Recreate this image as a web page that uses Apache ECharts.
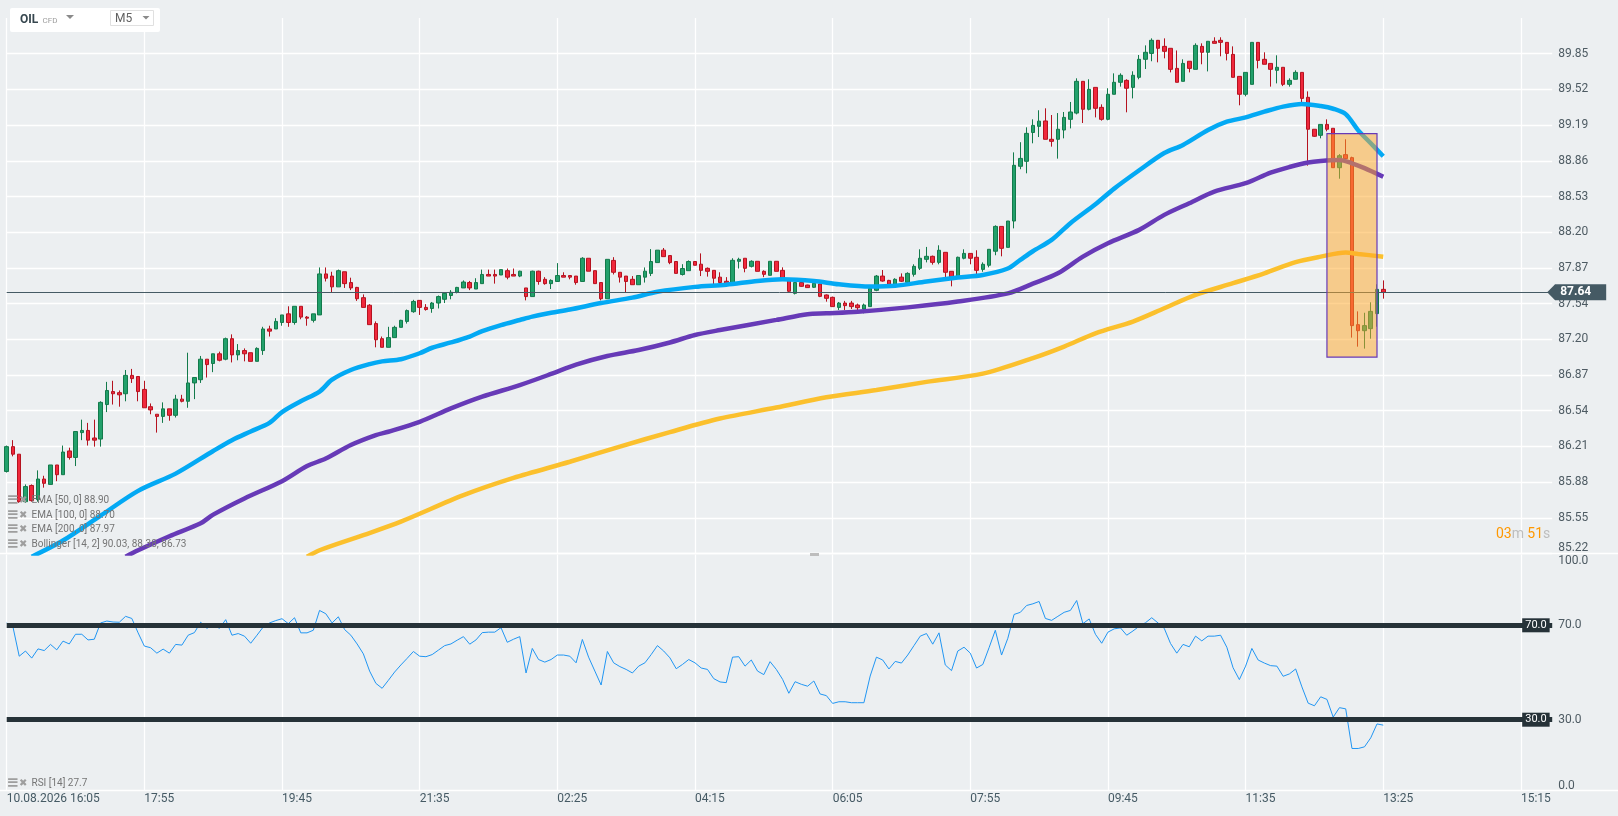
<!DOCTYPE html>
<html>
<head>
<meta charset="utf-8">
<script src="https://cdn.jsdelivr.net/npm/echarts@6/dist/echarts.min.js"></script>
<style>
html,body{margin:0;padding:0;background:#eceff1;}
#chart{width:1618px;height:816px;}
</style>
</head>
<body>
<div id="chart"></div>
<script>
// ---------- tick labels ----------
const xTickLabels = ['10.08.2026 16:05','17:55','19:45','21:35','02:25','04:15','06:05','07:55','09:45','11:35','13:25','15:15'];
const yTickLabels = ['85.22','85.55','85.88','86.21','86.54','86.87','87.20','87.54','87.87','88.20','88.53','88.86','89.19','89.52','89.85'];
const rsiTickValues = [0, 30, 70, 100];
const rsiTickTexts = ['0.0', '30.0', '70.0', '100.0'];
const rsiLevels = [70, 30];

// ---------- candles (M5) ----------
const opens = [85.98,86.21,86.14,85.70,85.85, 85.72,85.91,85.86,86.04,85.95, 86.17,86.11,86.34,86.36,86.29, 86.28,86.60,86.72,86.71,86.70,
 86.87,86.86,86.74,86.58,86.51, 86.49,86.56,86.50,86.65,86.63, 86.80,86.83,87.02,86.98,87.07, 87.02,87.21,87.06,87.10,87.08,
 87.00,87.10,87.30,87.30,87.36, 87.44,87.36,87.51,87.41,87.38, 87.43,87.81,87.79,87.69,87.83, 87.73,87.685,87.59,87.52,87.35,
 87.21,87.13,87.22,87.315,87.37, 87.46,87.565,87.50,87.49,87.54, 87.575,87.61,87.64,87.68,87.73, 87.67,87.72,87.805,87.805,87.80,
 87.84,87.805,87.79,87.68,87.60, 87.835,87.76,87.72,87.74,87.795, 87.795,87.79,87.74,87.955,87.84, 87.73,87.58,87.935,87.825,87.79,
 87.76,87.71,87.78,87.815,87.915, 88.03,87.98,87.925,87.805,87.84, 87.925,87.90,87.862,87.843,87.78, 87.742,87.707,87.927,87.955,87.88,
 87.927,87.834,87.797,87.927,87.843, 87.76,87.63,87.73,87.707,87.686, 87.717,87.615,87.593,87.50,87.54, 87.54,87.522,87.485,87.507,87.658,
 87.79,87.75,87.714,87.78,87.732, 87.806,87.862,87.945,87.973,87.917, 88.01,87.834,87.78,87.955,88.00, 87.964,87.852,87.89,88.02,88.25,
 88.056,88.30,88.807,88.853,89.12, 89.177,89.227,89.057,89.057,89.143, 89.242,89.30,89.594,89.335,89.538, 89.353,89.242,89.474,89.585,89.603,
 89.538,89.631,89.798,89.853,89.974, 89.918,89.90,89.714,89.594,89.78, 89.705,89.918,89.863,89.965,89.974, 89.955,89.844,89.64,89.474,89.566,
 89.955,89.798,89.76,89.696,89.724, 89.566,89.613,89.677,89.446,89.15, 89.094,89.195,89.159,88.794,88.915, 88.887,87.34,87.284,87.303,87.442,
 87.667];
const closes = [86.21,86.14,85.70,85.84,85.71, 85.91,85.87,86.04,85.95,86.16, 86.11,86.35,86.36,86.27,86.27, 86.62,86.73,86.70,86.69,86.87,
 86.84,86.72,86.57,86.55,86.49, 86.56,86.50,86.65,86.63,86.80, 86.85,87.02,86.97,87.07,87.01, 87.21,87.06,87.10,87.07,87.00,
 87.12,87.30,87.28,87.37,87.43, 87.36,87.51,87.41,87.40,87.44, 87.81,87.77,87.69,87.84,87.72, 87.68,87.58,87.50,87.34,87.20,
 87.13,87.22,87.315,87.38,87.47, 87.555,87.50,87.48,87.54,87.60, 87.63,87.64,87.685,87.735,87.68, 87.73,87.805,87.79,87.79,87.85,
 87.78,87.79,87.835,87.60,87.835, 87.74,87.72,87.75,87.795,87.78, 87.78,87.73,87.955,87.835,87.72, 87.58,87.945,87.825,87.78,87.74,
 87.71,87.795,87.835,87.925,88.03, 87.97,87.915,87.815,87.86,87.925, 87.89,87.843,87.834,87.77,87.73, 87.723,87.936,87.945,87.862,87.927,
 87.834,87.806,87.927,87.834,87.76, 87.649,87.73,87.695,87.683,87.723, 87.602,87.584,87.507,87.54,87.516, 87.507,87.497,87.522,87.676,87.79,
 87.744,87.714,87.76,87.742,87.815, 87.88,87.955,87.973,87.917,88.029, 87.825,87.78,87.964,88.00,87.955, 87.843,87.899,88.038,88.25,88.047,
 88.30,88.816,88.88,89.112,89.186, 89.225,89.057,89.038,89.15,89.26, 89.31,89.594,89.335,89.52,89.344, 89.242,89.474,89.585,89.65,89.53,
 89.65,89.798,89.863,89.974,89.90, 89.872,89.705,89.585,89.76,89.714, 89.927,89.863,89.965,89.946,89.955, 89.853,89.631,89.474,89.677,89.955,
 89.788,89.752,89.705,89.724,89.566, 89.603,89.677,89.436,89.15,89.085, 89.195,89.15,88.794,88.905,88.878, 87.331,87.284,87.331,87.463,87.667,
 87.64];
const lows = [85.97,86.12,85.69,85.69,85.70, 85.70,85.83,85.86,85.89,85.95, 86.09,86.03,86.27,86.22,86.21, 86.21,86.53,86.60,86.58,86.63,
 86.80,86.63,86.57,86.51,86.34, 86.43,86.45,86.48,86.62,86.57, 86.65,86.80,86.85,86.90,87.00, 87.01,86.99,87.01,87.00,87.00,
 87.00,87.06,87.23,87.30,87.33, 87.32,87.34,87.39,87.33,87.36, 87.43,87.74,87.64,87.69,87.68, 87.66,87.56,87.50,87.34,87.13,
 87.13,87.13,87.22,87.315,87.35, 87.45,87.43,87.47,87.45,87.49, 87.54,87.575,87.63,87.68,87.66, 87.67,87.72,87.79,87.72,87.80,
 87.76,87.79,87.78,87.565,87.60, 87.71,87.71,87.67,87.74,87.78, 87.76,87.71,87.74,87.835,87.72, 87.565,87.58,87.805,87.73,87.64,
 87.71,87.71,87.73,87.79,87.915, 87.97,87.90,87.815,87.795,87.84, 87.89,87.79,87.785,87.713,87.71, 87.71,87.70,87.86,87.825,87.87,
 87.834,87.78,87.797,87.834,87.75, 87.64,87.62,87.69,87.68,87.68, 87.595,87.553,87.507,87.476,87.476, 87.485,87.46,87.445,87.507,87.65,
 87.738,87.708,87.708,87.735,87.725, 87.785,87.846,87.917,87.896,87.899, 87.78,87.695,87.78,87.945,87.899, 87.806,87.83,87.871,87.983,87.973,
 88.056,88.232,88.78,88.742,89.02, 89.078,89.057,88.989,88.878,89.066, 89.158,89.288,89.208,89.325,89.26, 89.23,89.233,89.474,89.545,89.307,
 89.436,89.613,89.708,89.78,89.77, 89.807,89.677,89.585,89.594,89.677, 89.705,89.752,89.686,89.946,89.826, 89.788,89.631,89.372,89.455,89.566,
 89.714,89.752,89.545,89.575,89.55, 89.545,89.613,89.396,88.813,89.08, 89.066,89.131,88.794,88.692,88.859, 87.22,87.136,87.118,87.21,87.321,
 87.581];
const highs = [86.22,86.27,86.14,85.86,85.86, 85.99,85.94,86.04,86.04,86.22, 86.20,86.35,86.46,86.43,86.46, 86.63,86.81,86.82,86.73,86.92,
 86.93,86.86,86.82,86.61,86.51, 86.62,86.56,86.69,86.69,87.08, 86.85,87.05,87.02,87.07,87.09, 87.22,87.25,87.16,87.12,87.08,
 87.13,87.32,87.33,87.40,87.43, 87.51,87.51,87.51,87.42,87.44, 87.87,87.87,87.83,87.85,87.83, 87.775,87.69,87.62,87.53,87.37,
 87.23,87.32,87.33,87.385,87.48, 87.57,87.565,87.53,87.55,87.61, 87.64,87.66,87.69,87.75,87.745, 87.77,87.85,87.85,87.85,87.85,
 87.86,87.86,87.84,87.68,87.84, 87.84,87.78,87.76,87.91,87.825, 87.795,87.79,87.965,87.955,87.84, 87.73,87.945,87.965,87.825,87.79,
 87.79,87.795,87.87,88.04,88.03, 88.05,87.98,87.925,87.90,87.935, 87.925,88.00,87.87,87.843,87.825, 87.78,87.955,87.96,87.955,87.936,
 87.927,87.843,87.927,87.927,87.871, 87.77,87.73,87.74,87.71,87.73, 87.72,87.62,87.60,87.55,87.56, 87.56,87.535,87.535,87.707,87.80,
 87.846,87.755,87.77,87.815,87.825, 87.899,88.038,88.06,87.98,88.075, 88.01,87.834,87.97,88.038,88.00, 88.029,87.917,88.038,88.26,88.25,
 88.30,88.936,89.03,89.168,89.242, 89.326,89.344,89.282,89.30,89.31, 89.403,89.622,89.594,89.613,89.538, 89.381,89.53,89.668,89.668,89.613,
 89.687,89.838,89.927,89.992,89.977, 89.992,89.90,89.88,89.798,89.78, 89.946,89.946,89.965,90.002,90.002, 89.955,89.918,89.64,89.677,89.955,
 89.955,89.863,89.76,89.835,89.724, 89.622,89.696,89.677,89.501,89.15, 89.195,89.242,89.159,88.92,89.057, 88.896,87.463,87.45,87.547,87.714,
 87.75];

// ---------- RSI [14] ----------
const rsi = [71.0,69.3,56.9,59.1,56.1, 60.0,59.3,61.9,59.6,63.3, 62.1,66.2,66.2,63.8,64.1, 71.0,71.8,71.4,71.3,73.8,
 72.9,66.8,61.2,60.5,58.2, 59.9,58.2,61.9,61.6,65.8, 66.9,71.3,68.7,70.3,68.7, 72.4,65.8,66.5,65.4,62.4,
 65.8,69.3,71.0,72.0,72.8, 70.7,73.2,66.8,66.8,67.9, 76.3,74.9,71.0,73.6,68.2, 65.8,62.1,57.9,50.6,45.4,
 43.3,46.7,50.2,53.2,56.0, 58.9,56.9,56.7,57.6,59.5, 61.4,62.1,63.7,65.2,62.0, 63.8,66.9,67.1,67.1,69.0,
 62.8,64.1,65.2,49.8,60.2, 55.5,54.4,55.5,57.4,57.4, 56.9,54.1,64.0,56.5,50.6, 44.7,58.9,54.1,52.5,51.3,
 49.8,52.7,54.1,57.6,61.4, 59.1,56.2,51.6,53.4,55.5, 54.1,51.9,51.3,47.4,46.0, 45.7,56.5,56.7,52.7,55.3,
 50.6,49.1,54.6,51.3,47.1, 41.2,46.1,45.0,44.2,46.4, 40.9,40.2,36.9,37.6,37.6, 37.2,37.2,37.2,48.5,56.5,
 55.3,51.5,54.7,54.0,57.4, 61.4,65.4,66.5,62.0,66.8, 53.2,50.8,59.1,60.7,58.2, 51.9,53.4,60.5,67.9,57.4,
 64.5,74.6,75.5,78.4,79.1, 80.1,72.9,72.1,73.8,75.5, 76.3,80.5,70.7,72.7,66.2, 62.4,67.1,68.5,68.9,65.8,
 67.6,69.6,71.1,73.2,71.0, 68.7,62.3,58.2,61.9,60.9, 65.4,63.4,65.4,65.4,65.8, 60.7,52.0,47.0,52.7,60.2,
 55.3,54.0,52.9,52.7,48.4, 49.4,51.5,43.9,37.0,35.9, 39.7,38.6,31.1,35.1,34.6, 17.8,17.8,18.5,22.3,28.2,
 27.7];

// ---------- EMAs: [candle index, value] ----------
const ema50 = [[4,85.19],[9,85.34],[15,85.57],[21,85.80],[27,85.96],[33,86.17],[36,86.27],[39,86.35],[42,86.43],[44,86.53],
 [47,86.63],[50,86.72],[52,86.83],[55,86.92],[58,86.975],[60,87.0],[63,87.02],[66,87.075],[68,87.126],[71,87.175],[74,87.23],
 [76,87.28],[79,87.336],[82,87.383],[84,87.414],[87,87.45],[90,87.48],[95,87.54],[100,87.59],[104,87.645],
 [110,87.69],[115,87.71],[120,87.745],[124,87.76],[129,87.745],[133,87.714],[138,87.693],[142,87.70],[147,87.74],[152,87.776],
 [156,87.80],[160,87.86],[162,87.94],[164,88.02],[167,88.125],[170,88.28],[174,88.455],[177,88.60],[181,88.77],[185,88.93],
 [188,89.005],[192,89.143],[195,89.22],[198,89.26],[201,89.313],[204,89.36],[207,89.385],[210,89.365],[212,89.34],[214,89.29],
 [216,89.14],[218,89.02],[220,88.90]];
const ema100 = [[19,85.19],[21,85.25],[26,85.38],[31,85.50],[33,85.58],[38,85.73],[44,85.89],[48,86.03],[51,86.10],[55,86.225],
 [59,86.317],[61,86.348],[66,86.44],[71,86.564],[76,86.673],[82,86.78],[87,86.883],[91,86.97],[96,87.05],[101,87.105],[106,87.175],
 [110,87.244],[114,87.29],[123,87.384],
 [128,87.437],[131,87.445],[136,87.46],[144,87.50],[152,87.554],[160,87.63],[164,87.72],[168,87.816],[172,87.97],[176,88.094],
 [181,88.218],[185,88.357],[189,88.465],[193,88.573],[198,88.65],[202,88.748],[205,88.80],[208,88.842],[210,88.856],[213,88.865],
 [215,88.835],[217,88.79],[220,88.71]];
const ema200 = [[48,85.19],[50,85.25],[57,85.39],[63,85.515],[73,85.76],[81,85.92],[90,86.07],[98,86.21],[106,86.345],[114,86.47],
 [123,86.572],[131,86.667],[139,86.734],[147,86.81],[156,86.886],[164,87.03],[169,87.137],[174,87.26],[180,87.369],[185,87.492],
 [190,87.616],[196,87.724],[201,87.816],[206,87.92],[210,87.97],[214,88.008],[216,87.995],[220,87.97]];

// highlighted zone: [from index, to index, top price, bottom price]
const highlightBox = [[211, 219, 89.11, 87.04]];
const lastPrice = 87.64;
const legendLines = ['EMA [50, 0] 88.90', 'EMA [100, 0] 88.70', 'EMA [200, 0] 87.97', 'Bollinger [14, 2] 90.03, 88.38, 86.73'];
const rsiLegend = 'RSI [14] 27.7';

// ---------- categories: 5-minute bars, session break 23:00 -> 02:00 ----------
const categories = [];
(function () {
  let m = 16 * 60 + 5;
  for (let i = 0; i < 248; i++) {
    categories.push(String(Math.floor(m / 60) % 24).padStart(2, '0') + ':' + String(m % 60).padStart(2, '0'));
    m += 5;
    if (m === 23 * 60) m = 26 * 60;
  }
})();

const candleData = opens.map((o, i) => [o, closes[i], lows[i], highs[i]]);

const yMin = 85.22, yStep = 0.330715, yMax = yMin + 15 * yStep;
const FONT = 'Roboto, "Noto Sans", sans-serif';
const gridL = 6.7, gridR = 65.8;

const chart = echarts.init(document.getElementById('chart'), null, { renderer: 'canvas' });

const legendGraphics = [];
function addLegend(y, t) {
  legendGraphics.push({ type: 'text', z: 20, style: { x: 6.5, y: y, text: '≡', fill: '#9e9e9e', font: 'bold 15px "DejaVu Sans"', textVerticalAlign: 'middle' } });
  legendGraphics.push({ type: 'text', z: 20, style: { x: 19, y: y, text: '✖', fill: '#9e9e9e', font: '10px "DejaVu Sans"', textVerticalAlign: 'middle' } });
  legendGraphics.push({ type: 'text', z: 20, style: { x: 31.5, y: y, text: t, fill: '#757575', font: '10px ' + FONT, textVerticalAlign: 'middle' } });
}
legendLines.forEach((t, k) => addLegend(500.5 + k * 14.5, t));
addLegend(783, rsiLegend);

const option = {
  backgroundColor: '#eceff1',
  animation: false,
  textStyle: { fontFamily: FONT },
  grid: [
    { left: gridL, right: gridR, top: 18, height: 535.5, outerBoundsMode: 'none' },
    { left: gridL, right: gridR, top: 554.5, height: 236, outerBoundsMode: 'none' }
  ],
  xAxis: [
    {
      type: 'category', gridIndex: 0, data: categories, boundaryGap: false,
      axisLine: { show: false }, axisTick: { show: false }, axisLabel: { show: false },
      splitLine: { show: true, interval: 21, lineStyle: { color: '#ffffff', width: 1.3 } }
    },
    {
      type: 'category', gridIndex: 1, data: categories, boundaryGap: false,
      axisLine: { show: false }, axisTick: { show: false },
      axisLabel: {
        show: true, interval: 21, align: 'left', margin: 2, color: '#455a64', fontSize: 12, fontFamily: FONT, hideOverlap: false,
        formatter: (v, i) => (i % 22 === 0 && xTickLabels[i / 22] !== undefined) ? xTickLabels[i / 22] : ''
      },
      splitLine: { show: true, interval: 21, lineStyle: { color: '#ffffff', width: 1.3 } }
    }
  ],
  yAxis: [
    {
      type: 'value', gridIndex: 0, position: 'right', min: yMin, max: yMax, interval: yStep, scale: true,
      axisLine: { show: false }, axisTick: { show: false },
      splitLine: { show: true, showMaxLine: false, lineStyle: { color: '#ffffff', width: 1.3 } },
      axisLabel: {
        margin: 6, color: '#4e5b63', fontSize: 12, fontFamily: FONT, showMaxLabel: false,
        formatter: (v) => {
          const k = Math.round((v - yMin) / yStep);
          if (k === 0) return '{lo|' + yTickLabels[0] + '}';
          return yTickLabels[k] || '';
        },
        rich: { lo: { padding: [0, 0, 11, 0], color: '#4e5b63', fontSize: 12, fontFamily: FONT } }
      }
    },
    {
      type: 'value', gridIndex: 1, position: 'right', min: 0, max: 100, interval: 10,
      axisLine: { show: false }, axisTick: { show: false }, splitLine: { show: false },
      axisLabel: {
        margin: 6, color: '#4e5b63', fontSize: 12, fontFamily: FONT,
        formatter: (v) => {
          const k = rsiTickValues.indexOf(Math.round(v));
          if (k < 0) return '';
          if (v === 100) return '{hi|' + rsiTickTexts[k] + '}';
          if (v === 0) return '{lo|' + rsiTickTexts[k] + '}';
          return rsiTickTexts[k];
        },
        rich: {
          hi: { padding: [12, 0, 0, 0], color: '#4e5b63', fontSize: 12, fontFamily: FONT },
          lo: { padding: [0, 0, 10, 0], color: '#4e5b63', fontSize: 12, fontFamily: FONT }
        }
      }
    }
  ],
  series: [
    {
      name: 'OIL', type: 'candlestick', xAxisIndex: 0, yAxisIndex: 0, data: candleData, barWidth: 4, clip: false, z: 2, silent: true,
      itemStyle: { color: '#22a06b', color0: '#f0283c', borderColor: '#137a4b', borderColor0: '#b5121f', borderWidth: 1 },
      markLine: {
        silent: true, symbol: 'none', animation: false,
        data: [{ yAxis: lastPrice }],
        lineStyle: { color: '#455a64', width: 1, type: 'solid' },
        label: { show: false }
      },
      markPoint: {
        silent: true, animation: false,
        data: [{
          coord: [categories[categories.length - 1], lastPrice],
          symbol: 'path://M0,8 L8,0 L60,0 L60,16 L8,16 Z', symbolSize: [59, 16], symbolKeepAspect: false, symbolOffset: [24.5, 0],
          itemStyle: { color: '#455a64' },
          label: { show: true, position: 'inside', offset: [-1, 0], formatter: lastPrice.toFixed(2), color: '#ffffff', fontWeight: 'bold', fontSize: 12, fontFamily: FONT }
        }]
      }
    },
    { name: 'EMA50', type: 'line', xAxisIndex: 0, yAxisIndex: 0, data: ema50, showSymbol: false, smooth: 0.3, z: 3, silent: true, lineStyle: { color: '#03a9f4', width: 4.5 } },
    { name: 'EMA100', type: 'line', xAxisIndex: 0, yAxisIndex: 0, data: ema100, showSymbol: false, smooth: 0.3, z: 3, silent: true, lineStyle: { color: '#673ab7', width: 4.5 } },
    { name: 'EMA200', type: 'line', xAxisIndex: 0, yAxisIndex: 0, data: ema200, showSymbol: false, smooth: 0.3, z: 3, silent: true, lineStyle: { color: '#fbc02d', width: 4.5 } },
    {
      name: 'zone', type: 'custom', xAxisIndex: 0, yAxisIndex: 0, z: 10, silent: true, data: highlightBox,
      encode: { x: [0, 1], y: [2, 3] },
      renderItem: (params, api) => {
        const a = api.coord([api.value(0), api.value(2)]);
        const b = api.coord([api.value(1), api.value(3)]);
        return { type: 'rect', shape: { x: a[0], y: a[1], width: b[0] - a[0], height: b[1] - a[1] },
          style: { fill: 'rgba(255,167,38,0.5)', stroke: '#673ab7', lineWidth: 1.2 } };
      }
    },
    {
      name: 'RSI', type: 'line', xAxisIndex: 1, yAxisIndex: 1, data: rsi, showSymbol: false, z: 3, silent: true,
      lineStyle: { color: '#2196f3', width: 1 },
      markLine: {
        silent: true, symbol: 'none', animation: false,
        data: rsiLevels.map(v => ({ yAxis: v })),
        lineStyle: { color: '#263238', width: 5, type: 'solid', opacity: 1 },
        label: {
          show: true, position: 'end', distance: 0, offset: [-30, 0],
          formatter: (p) => Number(p.value).toFixed(1),
          color: '#ffffff', backgroundColor: '#263238', padding: [2, 3, 1, 3], fontSize: 11, fontFamily: FONT
        }
      }
    }
  ],
  graphic: [
    { type: 'line', z: 1, shape: { x1: 0, y1: 553.5, x2: 1618, y2: 553.5 }, style: { stroke: '#ffffff', lineWidth: 1.5 } },
    { type: 'line', z: 1, shape: { x1: 0, y1: 790.5, x2: 1618, y2: 790.5 }, style: { stroke: '#ffffff', lineWidth: 1.5 } },
    { type: 'rect', z: 1, shape: { x: 810, y: 553, width: 9, height: 3 }, style: { fill: '#bdbdbd' } },
    // instrument box
    { type: 'rect', z: 20, shape: { x: 10, y: 8, width: 150, height: 24, r: 2 }, style: { fill: '#ffffff' } },
    { type: 'text', z: 21, style: { x: 20, y: 20, text: 'OIL', fill: '#37474f', font: 'bold 12px ' + FONT, textVerticalAlign: 'middle' } },
    { type: 'text', z: 21, style: { x: 42.5, y: 20.5, text: 'CFD', fill: '#9e9e9e', font: '8px ' + FONT, textVerticalAlign: 'middle' } },
    { type: 'polygon', z: 21, shape: { points: [[66, 15], [74, 15], [70, 19]] }, style: { fill: '#8a8a8a' } },
    { type: 'rect', z: 21, shape: { x: 110.5, y: 10.5, width: 43, height: 15 }, style: { fill: '#ffffff', stroke: '#e0e0e0', lineWidth: 1 } },
    { type: 'text', z: 22, style: { x: 115, y: 18.5, text: 'M5', fill: '#616161', font: '12px ' + FONT, textVerticalAlign: 'middle' } },
    { type: 'polygon', z: 22, shape: { points: [[142.5, 16], [149.5, 16], [146, 19.5]] }, style: { fill: '#8a8a8a' } },
    // countdown
    {
      type: 'text', z: 20,
      style: {
        x: 1496, y: 534, textVerticalAlign: 'middle',
        text: '{o|03}{g|m} {o|51}{g|s}',
        rich: { o: { fill: '#ff9800', font: '14px ' + FONT }, g: { fill: '#bdbdbd', font: '14px ' + FONT } }
      }
    }
  ].concat(legendGraphics)
};

chart.setOption(option);
</script>
</body>
</html>
